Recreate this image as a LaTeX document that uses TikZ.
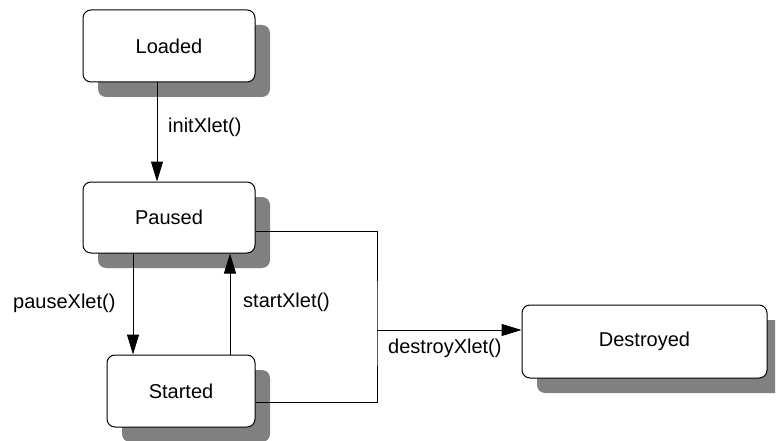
\documentclass[tikz,border=0pt]{standalone}
\usepackage{fontspec}
\setmainfont{Liberation Sans}
\usetikzlibrary{arrows.meta,shadows}
\definecolor{shade}{RGB}{128,128,128}
\begin{document}
\begin{tikzpicture}[x=1pt,y=-1pt,
  txt/.style={font=\fontsize{20}{24}\selectfont},
  state/.style={txt, draw=black, line width=1pt, fill=white,
    rounded corners=8pt, inner sep=0pt,
    drop shadow={shadow xshift=15pt, shadow yshift=-15pt, fill=shade, opacity=1}},
  lbl/.style={txt, inner sep=0pt, anchor=base west},
  wire/.style={draw=black, line width=1pt},
  arr/.style={wire, -{Triangle[length=20pt,width=12pt]}}]
\useasboundingbox (0,0) rectangle (779,441);
\begin{scope}
\clip (0,0) rectangle (775,441);

% states
\node[state, minimum width=172pt, minimum height=72pt] (loaded) at (169,46) {Loaded};
\node[state, minimum width=172pt, minimum height=71pt] (paused) at (169,217.5) {Paused};
\node[state, minimum width=148pt, minimum height=72pt] (started) at (181,391) {Started};
\node[state, minimum width=245pt, minimum height=73pt] (destroyed) at (644.5,341.5) {Destroyed};

% transitions
\draw[arr] ([xshift=-12pt]loaded.south) -- ([xshift=-12pt]paused.north);
\draw[arr] ([xshift=-36pt]paused.south) -- ([xshift=-48pt]started.north);
\draw[arr] ([xshift=49pt]started.north) -- ([xshift=61pt]paused.south);

\coordinate (bus) at (377,330);
\draw[wire] ([yshift=-13.5pt]paused.east) -| (bus) |- ([yshift=-11pt]started.east);
\draw[arr] (bus) -- (bus -| destroyed.west);

% transition labels
\node[lbl] (lInit) at (168,132) {initXlet()};
\node[lbl] (lPause) at (13,308) {pauseXlet()};
\node[lbl] (lStart) at (243,307) {startXlet()};
\node[lbl] (lDestroy) at (388,353) {destroyXlet()};
\end{scope}
\end{tikzpicture}
\end{document}
